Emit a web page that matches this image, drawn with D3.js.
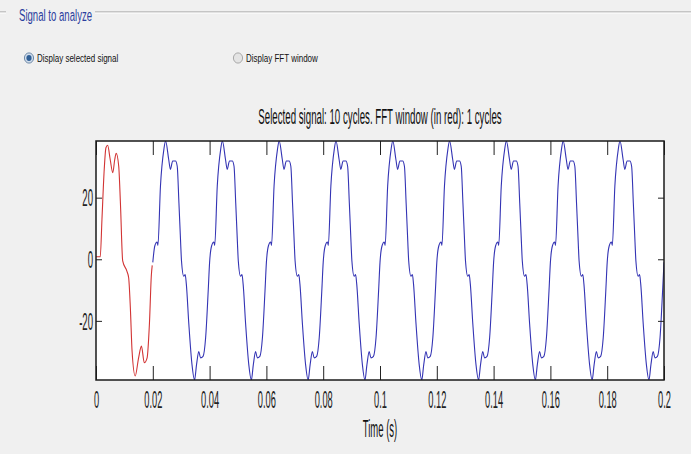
<!DOCTYPE html>
<html>
<head>
<meta charset="utf-8">
<script src="https://cdn.jsdelivr.net/npm/d3@7"></script>
<style>
  html, body { margin: 0; padding: 0; background: #f0f0f0; }
  svg { display: block; }
</style>
</head>
<body>
<div id="chart"></div>
<script>
// one cycle of the FFT window (red), phase in ms from t = 0
const redPhaseMs = [0, 1.5, 2.1, 2.9, 3.5, 4.1, 5.0, 5.9, 6.6, 7.1, 8.0, 8.6, 9.4, 10.9, 11.5, 12.1, 12.7, 13.8, 15.0, 16.0, 17.0, 18.0, 18.8, 19.5, 19.8]
const redValues  = [0.8, 0.8, 13, 29.2, 36.2, 37, 32.4, 28.1, 32.4, 34.4, 30.2, 18.3, -0.5, -3.9, -6, -15.8, -29.8, -37.9, -32, -28.2, -33.6, -32, -21.2, -5, -2]

// one cycle of the rest of the signal (blue), phase in ms from the cycle start
const bluePhaseMs = [0, 0.7, 1.5, 1.8, 2.7, 3.9, 4.5, 5.6, 6.2, 7.0, 8.0, 8.6, 9.2, 9.8, 10.1, 10.9, 11.4, 11.8, 12.7, 13.8, 14.7, 15.4, 16.2, 16.8, 17.7, 18.6, 19.5]
const blueValues  = [-1, 4.3, 5.6, 4.5, 23.8, 35.7, 38.4, 32.4, 29.2, 31.9, 31.9, 30.2, 18.3, 5.4, -0.5, -5.5, -5.0, -8, -21.2, -34.2, -39.2, -34.2, -30, -32, -31.5, -25.5, -10.4]

const cycles = 10
const period = 0.02

const xTicks = [0, 0.02, 0.04, 0.06, 0.08, 0.1, 0.12, 0.14, 0.16, 0.18, 0.2]
const yTicks = [-20, 0, 20]

const groupLabel = "Signal to analyze"
const radioLabels = ["Display selected signal", "Display FFT window"]
const title = "Selected signal: 10 cycles. FFT window (in red): 1 cycles"
const xLabel = "Time (s)"

const width = 691
const height = 454
const margin = ({ top: 141, right: 27, bottom: 74, left: 96 })
const font = "'Liberation Sans', Arial, sans-serif"

const svg = d3.select("#chart")
    .append("svg")
    .attr("width", width)
    .attr("height", height)

// the picture is stretched vertically, so text is drawn squashed the same way
stretched = (sel, x, y, str, size, k, anchor = "start") => sel.append("text")
    .attr("transform", `translate(${x},${y}) scale(1,${k})`)
    .attr("font-family", font)
    .attr("font-size", size)
    .attr("text-anchor", anchor)
    .text(str)

// group box
svg.append("g")
    .attr("fill", "none")
    .call(g => {
        g.append("path").attr("d", "M0,12H6M95,12H691").attr("stroke", "#9a9a9a")
        g.append("path").attr("d", "M0,13H6M95,13H691").attr("stroke", "#ffffff")
    })
stretched(svg, 19, 20.5, groupLabel, 9.6, 1.75).attr("fill", "#2b3d9e")

// radio buttons
const radios = [{ x: 29, on: true, label: radioLabels[0] }, { x: 238, on: false, label: radioLabels[1] }]
radios.forEach(r => {
    svg.append("ellipse")
        .attr("cx", r.x).attr("cy", 58)
        .attr("rx", 4.6).attr("ry", 5.1)
        .attr("fill", r.on ? "#cfdceb" : "#e4e4e4")
        .attr("stroke", r.on ? "#6f8aa8" : "#a8a8a8")
    if (r.on) {
        svg.append("ellipse")
            .attr("cx", r.x).attr("cy", 58)
            .attr("rx", 2.6).attr("ry", 2.9)
            .attr("fill", "#2f5f96")
    }
    stretched(svg, r.x + 8, 62, r.label, 8, 1.45).attr("fill", "#111")
})

const x = d3.scaleLinear()
    .domain([0, 0.2])
    .range([margin.left, width - margin.right])

const y = d3.scaleLinear()
    .domain([-39.2, 38.4])
    .range([height - margin.bottom, margin.top])

const redData = redPhaseMs.map((p, i) => ({ t: p / 1000, v: redValues[i] }))
const blueData = d3.range(1, cycles).flatMap(k =>
    bluePhaseMs.map((p, i) => ({ t: k * period + p / 1000, v: blueValues[i] })))
blueData.push({ t: cycles * period, v: blueValues[0] })

const line = d3.line()
    .curve(d3.curveMonotoneX)
    .x(d => x(d.t))
    .y(d => y(d.v))

const plotW = x.range()[1] - x.range()[0]
const plotH = y.range()[0] - y.range()[1]

svg.append("rect")
    .attr("x", margin.left).attr("y", margin.top)
    .attr("width", plotW).attr("height", plotH)
    .attr("fill", "white")

svg.append("defs").append("clipPath").attr("id", "clip")
    .append("rect")
    .attr("x", margin.left).attr("y", margin.top)
    .attr("width", plotW).attr("height", plotH)

const plot = svg.append("g").attr("clip-path", "url(#clip)")

plot.append("path")
    .datum(blueData)
    .attr("fill", "none")
    .attr("stroke", "#3434b4")
    .attr("stroke-width", 1.1)
    .attr("d", line)

plot.append("path")
    .datum(redData)
    .attr("fill", "none")
    .attr("stroke", "#d23434")
    .attr("stroke-width", 1.1)
    .attr("d", line)

const xFmt = d => String(+d.toFixed(2))

const gx = svg.append("g")
    .attr("transform", `translate(0,${y.range()[0]})`)
    .call(d3.axisBottom(x).tickValues(xTicks).tickFormat(xFmt).tickSizeInner(-14).tickSizeOuter(0))
gx.select(".domain").remove()
gx.selectAll("line").attr("stroke", "#222")
gx.selectAll("text")
    .attr("y", null).attr("dy", null)
    .attr("fill", "#222")
    .attr("font-family", font)
    .attr("font-size", 9.3)
    .attr("transform", "translate(0,28) scale(1,2.5)")

const gxTop = svg.append("g")
    .attr("transform", `translate(0,${y.range()[1]})`)
    .call(d3.axisTop(x).tickValues(xTicks).tickFormat("").tickSizeInner(-14).tickSizeOuter(0))
gxTop.select(".domain").remove()
gxTop.selectAll("line").attr("stroke", "#222")

const gy = svg.append("g")
    .attr("transform", `translate(${x.range()[0]},0)`)
    .call(d3.axisLeft(y).tickValues(yTicks).tickFormat(d => String(d)).tickSizeInner(-6).tickSizeOuter(0).tickPadding(3))
gy.select(".domain").remove()
gy.selectAll("line").attr("stroke", "#222")
gy.selectAll("text")
    .attr("x", null).attr("dy", null)
    .attr("fill", "#222")
    .attr("font-family", font)
    .attr("font-size", 9.6)
    .attr("transform", "translate(-3,8.3) scale(1,2.4)")

const gyRight = svg.append("g")
    .attr("transform", `translate(${x.range()[1]},0)`)
    .call(d3.axisRight(y).tickValues(yTicks).tickFormat("").tickSizeInner(-6).tickSizeOuter(0))
gyRight.select(".domain").remove()
gyRight.selectAll("line").attr("stroke", "#222")

// axes box
svg.append("rect")
    .attr("x", margin.left).attr("y", margin.top)
    .attr("width", plotW).attr("height", plotH)
    .attr("fill", "none")
    .attr("stroke", "#1a1a1a")
    .attr("stroke-width", 1.5)

const cx = (x.range()[0] + x.range()[1]) / 2
stretched(svg, cx, 123.5, title, 9.7, 2.2, "middle").attr("fill", "#111")
stretched(svg, cx, 436.5, xLabel, 9.5, 2.45, "middle").attr("fill", "#111")
</script>
</body>
</html>
